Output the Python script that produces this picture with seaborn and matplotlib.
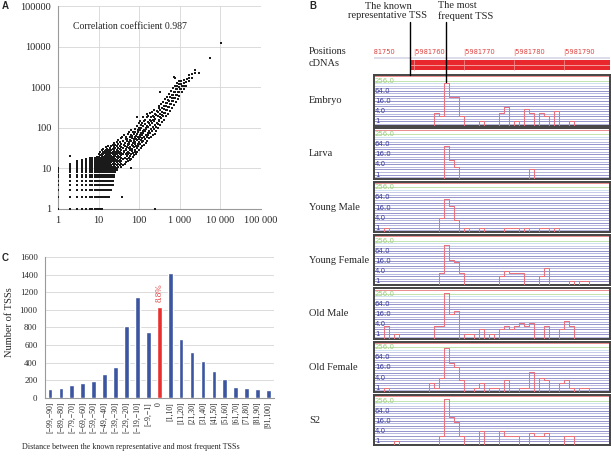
import numpy as np
import pandas as pd
import matplotlib
matplotlib.use("Agg")
import matplotlib.pyplot as plt
import matplotlib.transforms as mtransforms
import seaborn as sns

sns.set_style("white")
plt.rcParams["font.family"] = ["Liberation Serif", "DejaVu Sans"]

W, H = 611, 459

# ---------------- panel A: TSS tag counts, known vs most frequent ----------------
# lower-left corner is an integer grid: x values present on each row y
row_y1 = [1, 2, 3, 4, 5, 6, 7, 8, 9, 10, 11, 12, 240]
row_y2 = [1, 2, 3, 4, 5, 6, 7, 8, 9, 10, 11, 12, 13, 14, 15, 16, 18, 37]
row_y3 = [1, 2, 3, 4, 5, 6, 7, 8, 9, 10, 11, 12, 13, 14, 15, 16, 17, 18, 19, 20]
row_y4 = [1, 2, 3, 4, 5, 6, 7, 8, 9, 10, 11, 12, 13, 14, 15, 16, 17, 18, 19, 20, 22]
row_y5 = [1, 2, 3, 4, 5, 6, 7, 8, 9, 10, 11, 12, 13, 14, 15, 16, 17, 18, 19, 20, 22]
row_y6 = [1, 2, 3, 4, 5, 6, 7, 8, 9, 10, 11, 12, 13, 14, 15, 16, 17, 18, 19, 20, 22, 24]
row_y7 = [1, 2, 3, 4, 5, 6, 7, 8, 9, 10, 11, 12, 13, 14, 15, 16, 17, 18, 19, 20, 22, 24]
row_y8 = [1, 2, 3, 4, 5, 6, 7, 8, 9, 10, 11, 12, 13, 14, 15, 16, 17, 18, 19, 20, 22, 24, 26]
row_y9 = [1, 2, 3, 4, 5, 6, 7, 8, 9, 10, 11, 12, 13, 14, 15, 16, 17, 18, 19, 20, 22, 24, 26, 28]
row_y10 = [1, 2, 3, 4, 5, 6, 7, 8, 9, 10, 11, 12, 13, 14, 15, 16, 17, 18, 19, 20, 22, 24, 26, 28, 62]
# small-x columns above 10: y values present
col_x2 = [11, 12, 13, 20]
col_x3 = [11, 12, 13, 14, 15]
col_x4 = [11, 12, 13, 14, 15, 16]
col_x5 = [11, 12, 13, 14, 15, 16, 17]
col_x6 = [11, 12, 13, 14, 15, 16, 17, 18]
col_x7 = [11, 12, 13, 14, 15, 16, 17, 18]
col_x8 = [11, 12, 13, 14, 15, 16, 17, 18]
col_x9 = [11, 12, 13, 14, 15, 16, 17, 18, 19]
# dense part of the cloud, still on whole counts: (x, y values seen there)
cloud_cols = [
    (10, [11, 12, 13, 14, 15, 17, 19, 22]),
    (11, [11, 12, 13, 14, 16, 18, 21, 25]),
    (12, [11, 12, 13, 14, 15, 16, 18, 20, 23, 28]),
    (13, [11, 12, 13, 14, 15, 17, 19, 22, 26, 30]),
    (14, [11, 12, 13, 14, 16, 18, 20, 24, 27]),
    (15, [11, 12, 13, 15, 16, 18, 21, 23, 28, 33]),
    (16, [11, 12, 13, 14, 16, 18, 20, 25, 30]),
    (17, [11, 12, 14, 15, 17, 19, 22, 27, 35]),
    (18, [11, 13, 14, 16, 18, 21, 24, 29]),
    (19, [11, 12, 13, 15, 17, 19, 23, 26, 32]),
    (20, [11, 12, 14, 16, 18, 20, 24, 28, 36]),
    (22, [11, 13, 15, 17, 19, 22, 25, 30, 38]),
    (24, [11, 12, 14, 16, 18, 21, 24, 28, 34, 42]),
    (26, [11, 13, 15, 17, 20, 23, 26, 31, 37]),
    (28, [10, 12, 14, 16, 19, 22, 25, 29, 35, 45]),
    (30, [11, 13, 15, 18, 20, 24, 27, 32, 40, 50]),
    (33, [12, 14, 16, 19, 22, 26, 30, 36, 44]),
    (36, [11, 13, 15, 18, 21, 24, 28, 33, 40, 55]),
]
# sparser upper part of the cloud: (x, y) pairs
cloud_pts = [
    (40, 12), (41, 17), (39, 23), (42, 27), (40, 32), (43, 38), (41, 47), (38, 60),
    (44, 13), (45, 18), (46, 22), (43, 25), (47, 30), (45, 36), (44, 43), (46, 52), (43, 66),
    (48, 14), (50, 17), (49, 20), (51, 24), (47, 28), (50, 33), (52, 40), (49, 48), (48, 58),
    (53, 15), (55, 18), (52, 22), (54, 26), (56, 31), (53, 37), (55, 44), (51, 53), (54, 70),
    (58, 16), (60, 20), (57, 24), (61, 29), (59, 34), (56, 41), (60, 49), (58, 60), (57, 80),
    (62, 10), (64, 17), (63, 22), (66, 27), (61, 32), (65, 38), (63, 46), (67, 55), (62, 68), (64, 90),
    (69, 19), (71, 24), (68, 30), (72, 36), (70, 43), (73, 52), (67, 62), (71, 78),
    (75, 21), (77, 26), (74, 33), (78, 40), (76, 48), (79, 58), (73, 70), (77, 95),
    (82, 23), (80, 29), (84, 36), (81, 44), (85, 53), (83, 64), (79, 80), (86, 110),
    (90, 25), (88, 32), (92, 40), (87, 49), (91, 59), (89, 72), (93, 90), (88, 185),
    (98, 28), (95, 35), (100, 44), (97, 54), (102, 66), (96, 80), (99, 100), (101, 130),
    (108, 31), (104, 39), (110, 49), (106, 60), (111, 73), (103, 90), (109, 115), (105, 150),
    (118, 35), (114, 44), (120, 55), (116, 67), (121, 82), (113, 100), (119, 130),
    (128, 38), (124, 48), (131, 60), (126, 74), (132, 90), (123, 112), (129, 145), (127, 180),
    (143, 42), (137, 54), (146, 67), (139, 82), (144, 100), (136, 125), (142, 160),
    (158, 48), (152, 60), (161, 75), (150, 92), (157, 112), (163, 140), (153, 180), (160, 220),
    (175, 55), (167, 68), (178, 85), (165, 104), (173, 128), (180, 160), (168, 200),
    (195, 60), (186, 75), (198, 95), (184, 118), (192, 145), (200, 180), (188, 230),
    (215, 65), (206, 85), (220, 105), (204, 130), (213, 160), (222, 200), (208, 250),
    (240, 72), (228, 92), (245, 115), (230, 145), (238, 180), (248, 225), (232, 280),
    (266, 85), (255, 105), (270, 130), (252, 165), (262, 205), (274, 260),
    (296, 100), (283, 125), (300, 155), (286, 190), (294, 240), (304, 300),
    (326, 120), (314, 146), (333, 180), (318, 220), (329, 270), (312, 340), (320, 750),
    (368, 140), (352, 170), (372, 205), (356, 250), (366, 310), (350, 380),
    (408, 160), (394, 195), (415, 235), (398, 285), (410, 350), (392, 430),
    (460, 190), (442, 230), (466, 280), (446, 340), (455, 410), (440, 500),
    (510, 220), (492, 270), (518, 330), (496, 400), (506, 480), (488, 580),
    (570, 260), (552, 320), (578, 390), (555, 470), (565, 560), (548, 680),
    (640, 310), (620, 380), (648, 460), (625, 550), (636, 660), (618, 800),
    (710, 370), (690, 450), (720, 540), (695, 650), (706, 780), (688, 950), (700, 1750),
    (790, 440), (770, 530), (800, 640), (774, 760), (786, 900), (765, 1100), (760, 1700),
    (880, 520), (860, 630), (890, 750), (866, 880), (876, 1050), (856, 1250),
    (980, 620), (960, 750), (990, 880), (966, 1030), (976, 1200), (955, 1400),
    (1110, 750), (1085, 900), (1120, 1050), (1095, 1200), (1075, 1400),
    (1260, 900), (1235, 1080), (1270, 1280), (1240, 1500),
    (1460, 1100), (1430, 1350), (1475, 1600),
    (1700, 1400), (1680, 1700), (1720, 2000),
    (2000, 1700), (1980, 2100), (2400, 2200), (2380, 2700),
    (2900, 2300), (5400, 5100), (10500, 12500),
]

# ---------------- panel B: tag counts per bp in each library ----------------
window_start = 5981752
window_bp = 47.2
known_tss_off = 7.2
top_tss_off = 14.5
track_names = ["Embryo", "Larva", "Young Male", "Young Female", "Old Male", "Old Female", "S2"]
embryo_off = [12, 13, 14, 15, 16, 17, 21, 25, 26, 28, 30, 31, 33, 34, 36, 39]
embryo_cnt = [3, 2, 200, 28, 28, 2, 1, 3, 7, 1, 5, 3, 3, 2, 4, 1]
larva_off = [14, 15, 16, 31]
larva_cnt = [48, 7, 3, 2]
ymale_off = [2, 13, 14, 15, 16, 18, 21, 26, 27, 28, 30, 33, 34, 36]
ymale_cnt = [1, 4, 52, 21, 3, 1, 1, 1, 1, 1, 1, 1, 1, 1]
yfemale_off = [13, 14, 15, 16, 17, 25, 26, 27, 28, 29, 33, 34, 39, 41, 42]
yfemale_cnt = [3, 150, 17, 14, 3, 2, 4, 3, 3, 3, 2, 6, 1, 1, 1]
omale_off = [2, 4, 12, 13, 14, 15, 16, 18, 19, 21, 23, 25, 26, 27, 28, 29, 30, 31, 34, 37, 38, 39]
omale_cnt = [3, 1, 3, 3, 300, 17, 26, 1, 1, 2, 1, 2, 3, 2, 3, 5, 3, 5, 3, 2, 6, 3]
ofemale_off = [2, 11, 12, 13, 14, 15, 16, 17, 20, 21, 23, 24, 26, 29, 30, 31, 33, 34, 37, 38, 39, 41, 42]
ofemale_cnt = [1, 2, 1, 4, 240, 28, 17, 3, 1, 2, 1, 1, 3, 1, 1, 9, 4, 3, 2, 3, 1, 1, 1]
s2_off = [4, 13, 14, 15, 16, 17, 21, 25, 26, 27, 28, 31, 32, 33, 34, 38, 39]
s2_cnt = [1, 2, 330, 27, 13, 2, 4, 4, 2, 2, 2, 3, 2, 2, 3, 2, 2]
pos_ticks = [5981750, 5981760, 5981770, 5981780, 5981790]
level_labels = [256, 64, 16, 4, 1]

# ---------------- panel C: distance histogram ----------------
dist_bins = ["[−99,−90]", "[−89,−80]", "[−79,−70]", "[−69,−60]", "[−59,−50]", "[−49,−40]",
             "[−39,−30]", "[−29,−20]", "[−19,−10]", "[−9,−1]", "0", "[1,10]", "[11,20]",
             "[21,30]", "[31,40]", "[41,50]", "[51,60]", "[61,70]", "[71,80]", "[81,90]", "[91,100]"]
tss_counts = [95, 106, 140, 163, 190, 266, 353, 816, 1142, 751, 1036, 1423, 664, 520, 421, 304,
              216, 121, 110, 95, 88]


def box(x0, y0, x1, y1):
    return [x0 / W, 1 - y1 / H, (x1 - x0) / W, (y1 - y0) / H]


def ftext(px, py, s, **kw):
    fig.text(px / W, 1 - py / H, s, **kw)


fig = plt.figure(figsize=(W / 100, H / 100), dpi=100)

# ---- A ----
xs, ys = [], []
for yv, row in zip(range(1, 11), [row_y1, row_y2, row_y3, row_y4, row_y5, row_y6, row_y7, row_y8, row_y9, row_y10]):
    xs += row
    ys += [yv] * len(row)
for xv, col in zip(range(2, 10), [col_x2, col_x3, col_x4, col_x5, col_x6, col_x7, col_x8, col_x9]):
    xs += [xv] * len(col)
    ys += col
for xv, col in cloud_cols:
    xs += [xv] * len(col)
    ys += col
xs += [p[0] for p in cloud_pts]
ys += [p[1] for p in cloud_pts]
scatter_df = pd.DataFrame({"rep": xs, "freq": ys})

axA = fig.add_axes(box(58, 6, 261, 209))
sns.scatterplot(data=scatter_df, x="rep", y="freq", marker="s", s=1.7, color="#1a1a1a",
                linewidth=0, ax=axA, zorder=3)
axA.set_xscale("log")
axA.set_yscale("log")
axA.set_xlim(1, 1e5)
axA.set_ylim(1, 1e5)
dec = [1, 10, 100, 1000, 10000, 100000]
axA.set_xticks(dec)
axA.set_xticklabels(["1", "10", "100", "1 000", "10 000", "100 000"])
axA.set_yticks(dec)
axA.set_yticklabels(["1", "10", "100", "1000", "10000", "100000"])
axA.minorticks_off()
axA.grid(True, color="#d6d6d6", lw=0.6)
axA.set_axisbelow(True)
for s in ["top", "right"]:
    axA.spines[s].set_visible(False)
for s in ["left", "bottom"]:
    axA.spines[s].set_color("#9a9a9a")
    axA.spines[s].set_linewidth(0.8)
axA.tick_params(length=3, width=0.6, color="#9a9a9a", labelsize=7.5, pad=2)
axA.set_xlabel("")
axA.set_ylabel("")
axA.text(0.074, 0.90, "Correlation coefficient 0.987", transform=axA.transAxes,
         fontsize=7, va="center")

# ---- B ----
x_lo, x_hi = window_start, window_start + window_bp
axP = fig.add_axes(box(374, 44, 610, 73))
axP.set_xlim(x_lo, x_hi)
axP.set_ylim(73, 44)
axP.axis("off")
axP.axhspan(56.5, 59.5, color="#dcdcea", lw=0)
axP.fill_between([window_start + known_tss_off, x_hi], 60, 70, color="#e8282c", lw=0)
axP.axhline(65, xmin=(known_tss_off) / window_bp, xmax=1, color="#f39a9a", lw=0.7)
for t in pos_ticks:
    axP.plot([t, t], [60, 70], color="#f29b9b", lw=0.5)
    axP.text(t - 0.25, 52, "|" + str(t), color="#e0413f", fontsize=4.8, family="DejaVu Sans",
             va="center", ha="left", clip_on=True)

tracks = [(embryo_off, embryo_cnt), (larva_off, larva_cnt), (ymale_off, ymale_cnt),
          (yfemale_off, yfemale_cnt), (omale_off, omale_cnt), (ofemale_off, ofemale_cnt),
          (s2_off, s2_cnt)]
edges = [window_start + k for k in range(49)]
track_axes = []
for i, (name, (off, cnt)) in enumerate(zip(track_names, tracks)):
    top = 75 + i * 53.3
    ax = fig.add_axes(box(374, top, 610, top + 50.5))
    track_axes.append(ax)
    # guide lines
    for e in np.arange(-0.5, 6.51, 0.5):
        col = "#7878c0" if float(e).is_integer() else "#a4a4d6"
        ax.axhline(2 ** e, color=col, lw=0.55, zorder=1)
    ax.axhline(2 ** 7, color="#b8bce4", lw=0.55, zorder=1)
    ax.axhline(2 ** 7.5, color="#c8dcf0", lw=0.6, zorder=1)
    ax.axhline(2 ** 8, color="#b8dea0", lw=0.6, zorder=1)
    ax.axhline(2 ** 8.85, color="#e67a7a", lw=0.6, zorder=1)
    tdf = pd.DataFrame({"pos": [window_start + o + 0.5 for o in off], "cnt": cnt})
    sns.histplot(data=tdf, x="pos", weights="cnt", bins=edges,
                 element="step", fill=False, color="#e8727e", linewidth=0.75, ax=ax, zorder=3)
    ax.set_yscale("log", base=2)
    ax.set_ylim(0.56, 560)
    ax.set_xlim(x_lo, x_hi)
    ax.set_xticks([])
    ax.set_yticks([])
    ax.set_xlabel("")
    ax.set_ylabel("")
    for s in ax.spines.values():
        s.set_visible(True)
        s.set_color("#444444")
        s.set_linewidth(1.4)
    for lv in level_labels:
        lab = "1" if lv == 1 else f"{lv:.1f}"
        ax.text(x_lo + 0.15, lv, lab, fontsize=5, family="DejaVu Sans", va="center", ha="left",
                color="#9ccc80" if lv == 256 else "#3a3a96", zorder=4)
    ftext(309, top + 25.5, name, fontsize=7.5, va="center", ha="left")

ax_emb = track_axes[0]
trans = mtransforms.blended_transform_factory(ax_emb.transData, ax_emb.transAxes)
ax_emb.plot([window_start + known_tss_off] * 2, [1.0, 2.05], transform=trans, color="black",
            lw=1, clip_on=False, zorder=10)
ax_emb.plot([window_start + top_tss_off] * 2, [0.87, 2.05], transform=trans, color="black",
            lw=1, clip_on=False, zorder=10)

ftext(309, 52, "Positions", fontsize=7.5, va="center", ha="left")
ftext(309, 64, "cDNAs", fontsize=7.5, va="center", ha="left")
ftext(388, 11, "The known\nrepresentative TSS", fontsize=7.5, va="center", ha="center",
      linespacing=1.05)
ftext(438, 11, "The most\nfrequent TSS", fontsize=7.5, va="center", ha="left", linespacing=1.05)

# ---- C ----
axC = fig.add_axes(box(44.5, 257, 274, 397.7))
bar_colors = ["#e8312f" if b == "0" else "#3b55a0" for b in dist_bins]
sns.barplot(x=dist_bins, y=tss_counts, hue=dist_bins, palette=bar_colors, legend=False,
            width=0.43, saturation=1, ax=axC, zorder=3)
axC.set_ylim(0, 1600)
axC.set_xlim(-0.5, len(dist_bins) - 0.5)
axC.set_yticks(range(0, 1601, 200))
axC.grid(axis="y", color="#d6d6d6", lw=0.6)
axC.set_axisbelow(True)
axC.set_xticks(np.arange(-0.5, len(dist_bins)), minor=True)
axC.tick_params(axis="x", which="major", length=0, labelsize=5.6, rotation=90, pad=3)
axC.tick_params(axis="x", which="minor", length=3, width=0.6, color="#9a9a9a")
axC.tick_params(axis="y", length=3, width=0.6, color="#9a9a9a", labelsize=6.3, pad=2)
for s in ["top", "right"]:
    axC.spines[s].set_visible(False)
for s in ["left", "bottom"]:
    axC.spines[s].set_color("#9a9a9a")
    axC.spines[s].set_linewidth(0.8)
axC.set_xlabel("")
axC.set_ylabel("")
axC.text(10, 1085, "8.8%", rotation=90, color="#e23b3b", ha="center", va="bottom", fontsize=6.5)
ftext(10, 322, "Number of TSSs", rotation=90, fontsize=7.5, va="center", ha="center")
ftext(131, 447, "Distance between the known representative and most frequent TSSs",
      fontsize=5.8, va="center", ha="center")

# panel letters
for lx, ly, lt in [(5, 6, "A"), (313, 6, "B"), (5, 258, "C")]:
    ftext(lx, ly, lt, fontsize=7, fontweight="bold", family="Liberation Sans",
          va="center", ha="center")

fig.savefig("out.png", dpi=100)
